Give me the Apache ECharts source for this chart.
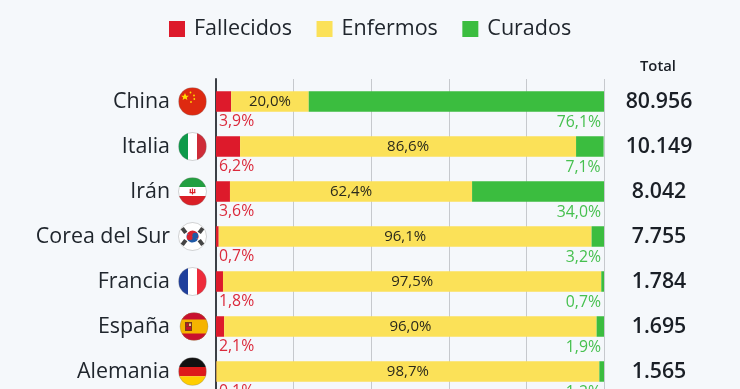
<!DOCTYPE html>
<html><head><meta charset="utf-8">
<style>html,body{margin:0;padding:0;background:#f5f8fb;overflow:hidden}#c{width:740px;height:389px}</style>
<script src="https://cdn.jsdelivr.net/npm/echarts@6/dist/echarts.min.js"></script>
</head><body><div id="c"></div>
<script>
const categories = ['China','Italia','Irán','Corea del Sur','Francia','España','Alemania'];
const fallecidos = [3.9,6.2,3.6,0.7,1.8,2.1,0.1];
const enfermos   = [20.0,86.6,62.4,96.1,97.5,96.0,98.7];
const curados    = [76.1,7.1,34.0,3.2,0.7,1.9,1.2];
const totals     = ['80.956','10.149','8.042','7.755','1.784','1.695','1.565'];
const flagCodes  = ['cn','it','ir','kr','fr','es','de'];

const FONT = '"Open Sans","Noto Sans",sans-serif';
const RED='#dd1a2b', YEL='#fbe158', GRN='#3bbd3f', INK='#1a1f26';
const fmt = p => p.value.toFixed(1).replace('.',',') + '%';

function rect(x,y,w,h,fill){return {type:'rect',shape:{x,y,width:w,height:h},style:{fill}};}
function circ(x,y,r,fill){return {type:'circle',shape:{cx:x,cy:y,r},style:{fill}};}
function star(x,y,r,fill){return {type:'path',shape:{pathData:'M0-10 2.9-3.1 9.5-3.1 4.4 1.2 5.9 8 0 4.3-5.9 8-4.4 1.2-9.5-3.1-2.9-3.1Z',x:x-r,y:y-r,width:2*r,height:2*r},style:{fill}};}
function bar(x,y,w,h,rot,fill){return {type:'rect',x,y,rotation:rot,shape:{x:-w/2,y:-h/2,width:w,height:h},style:{fill}};}

function flagParts(code){
  const R=14;
  switch(code){
    case 'cn': return [rect(-R,-R,2*R,2*R,'#de2910'),star(-7.5,-5,3.8,'#ffde00'),circ(-2,-9,.9,'#ffde00'),circ(1.5,-6,.9,'#ffde00'),circ(1.8,-2.5,.9,'#ffde00'),circ(-1.5,.5,.9,'#ffde00')];
    case 'it': return [rect(-R,-R,2*R,2*R,'#ffffff'),rect(-R,-R,9.5,2*R,'#0e9a4a'),rect(4.5,-R,9.5,2*R,'#ce2b37')];
    case 'ir': return [rect(-R,-R,2*R,2*R,'#ffffff'),rect(-R,-R,2*R,9.5,'#239f40'),rect(-R,4.5,2*R,9.5,'#da1f26'),
      rect(-.6,-3,1.2,6,'#da1f26'),rect(-2.8,-2.5,1.2,4,'#da1f26'),rect(1.6,-2.5,1.2,4,'#da1f26'),rect(-2.8,.5,5.6,1.2,'#da1f26')];
    case 'kr': {
      const k='#444', ps=[[-8.5,-6,-.93],[8.5,-6,.93],[-8.5,6,.93],[8.5,6,-.93]];
      const out=[rect(-R,-R,2*R,2*R,'#ffffff')];
      ps.forEach(p=>{out.push(bar(p[0],p[1],6,4,p[2],k));});
      out.push({type:'sector',shape:{cx:0,cy:0,r:6,r0:0,startAngle:Math.PI*1.13,endAngle:Math.PI*2.13},style:{fill:'#d8232f'}});
      out.push({type:'sector',shape:{cx:0,cy:0,r:6,r0:0,startAngle:Math.PI*.13,endAngle:Math.PI*1.13},style:{fill:'#1f5aa6'}});
      out.push(circ(-2.8,.8,3,'#d8232f'),circ(2.8,-.8,3,'#1f5aa6'));
      return out;
    }
    case 'fr': return [rect(-R,-R,2*R,2*R,'#ffffff'),rect(-R,-R,9.5,2*R,'#1f3f9c'),rect(4.5,-R,9.5,2*R,'#ee2b3b')];
    case 'es': return [rect(-R,-R,2*R,2*R,'#f5b400'),rect(-R,-R,2*R,7,'#c8102e'),rect(-R,7,2*R,7,'#c8102e'),
      rect(-9,-4.5,7,9,'#7a3a1a'),rect(-7.8,-3,2.2,2.6,'#c8102e'),rect(-5,-3,2,2.6,'#e9c98a'),rect(-7.8,.3,4.8,3,'#c8102e')];
    case 'de': return [rect(-R,-R,2*R,9.5,'#111111'),rect(-R,-4.6,2*R,9.4,'#dd1a1a'),rect(-R,4.7,2*R,9.3,'#ffce00')];
  }
}

const chart = echarts.init(document.getElementById('c'),null,{renderer:'canvas'});
chart.setOption({
  backgroundColor:'#f5f8fb',
  animation:false,
  legend:{
    top:13,left:164,icon:'rect',itemWidth:16,itemHeight:16,itemGap:24.5,selectedMode:false,
    data:['Fallecidos','Enfermos','Curados'],
    textStyle:{fontFamily:FONT,fontSize:21.5,color:'#20262d',padding:[0,0,0,4]}
  },
  graphic:[{type:'text',left:640,top:59.5,style:{text:'Total',font:'600 14.8px '+FONT,fill:INK}}],
  grid:{left:216,top:79,width:388,height:315,containLabel:false,outerBoundsMode:'none'},
  xAxis:{type:'value',min:0,max:100,interval:20,
    axisLine:{show:false},axisTick:{show:false},axisLabel:{show:false},
    splitLine:{show:true,lineStyle:{color:'#c6c9cd',width:1}}},
  yAxis:[{type:'category',inverse:true,data:categories,
      axisLine:{show:true,lineStyle:{color:'#3c4046',width:2}},axisTick:{show:false},
      axisLabel:{margin:46,fontFamily:FONT,fontSize:21.4,color:'#20262d',padding:[2,0,0,0]}},
    {type:'category',inverse:true,data:totals,position:'right',
      axisLine:{show:false},axisTick:{show:false},
      axisLabel:{margin:55,align:'center',fontFamily:FONT,fontSize:21.3,fontWeight:600,color:INK,padding:[5,0,0,0]}}],
  series:[
    {name:'Fallecidos',type:'bar',stack:'t',barWidth:20.5,data:fallecidos,itemStyle:{color:RED},
      label:{show:true,position:[3,22],align:'left',formatter:fmt,fontFamily:FONT,fontSize:15.8,color:'#db2a3c'}},
    {name:'Enfermos',type:'bar',stack:'t',data:enfermos,itemStyle:{color:YEL},
      label:{show:true,position:'inside',formatter:fmt,fontFamily:FONT,fontSize:15,color:'#2b2a1c'}},
    {name:'Curados',type:'bar',stack:'t',data:curados,itemStyle:{color:GRN},
      label:{show:true,position:'insideBottomRight',distance:0,offset:[-3,19],formatter:fmt,fontFamily:FONT,fontSize:15.8,color:'#46c04f'}},
    {type:'custom',silent:true,coordinateSystem:'cartesian2d',clip:false,
      data:flagCodes.map((c,i)=>[0,i]),encode:{x:0,y:1},
      renderItem:(params,api)=>{
        const p=api.coord([0,api.value(1)]);
        const code=flagCodes[params.dataIndex];
        const cx=p[0]-23.5+(code==='es'?1.5:0);
        return {type:'group',x:cx,y:p[1],children:[
          {type:'group',clipPath:{type:'circle',shape:{cx:0,cy:0,r:14}},children:flagParts(code)},
          {type:'circle',shape:{cx:0,cy:0,r:14},style:{fill:'none',stroke:'rgba(120,120,120,.45)',lineWidth:.7}}
        ]};
      }}
  ]
});
</script></body></html>
